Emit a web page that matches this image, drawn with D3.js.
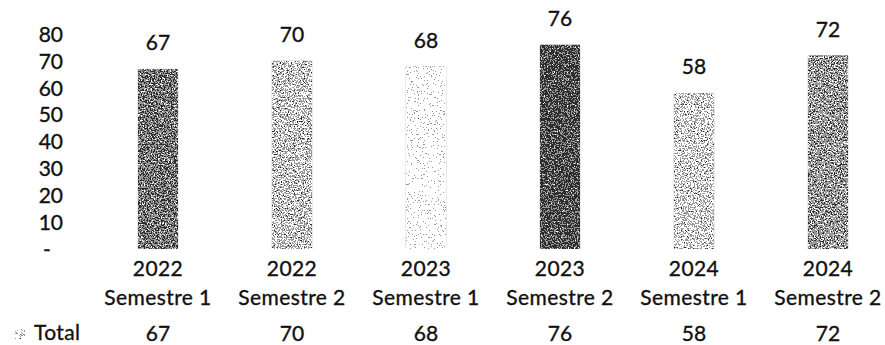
<!DOCTYPE html>
<html>
<head>
<meta charset="utf-8">
<script src="https://cdn.jsdelivr.net/npm/d3@7"></script>
<style>
  html, body { margin: 0; padding: 0; background: #fff; }
  svg { display: block; }
  text { font-family: Lato, "Noto Sans", sans-serif; fill: #111; }
</style>
</head>
<body>
<svg id="chart" width="885" height="345"></svg>
<script>
// Semester totals
const years = ["2022", "2022", "2023", "2023", "2024", "2024"];
const semesters = ["Semestre 1", "Semestre 2", "Semestre 1", "Semestre 2", "Semestre 1", "Semestre 2"];
const totals = [67, 70, 68, 76, 58, 72];
const yTicks = [0, 10, 20, 30, 40, 50, 60, 70, 80];
const seriesName = "Total";

// Grey level of each bar's stipple (0 = black, 1 = white)
const barShades = [0.38, 0.66, 0.975, 0.26, 0.7, 0.5];

const W = 885, H = 345;
const svg = d3.select("#chart");
const fontSize = 21;
const textStroke = 0.35;

// Stipple (dithered grey) filter: grey + noise, thresholded to dots
const defs = svg.append("defs");
const f = defs.append("filter")
  .attr("id", "stipple")
  .attr("x", 0).attr("y", 0).attr("width", 1).attr("height", 1)
  .attr("color-interpolation-filters", "sRGB");
f.append("feTurbulence")
  .attr("type", "fractalNoise").attr("baseFrequency", 0.7)
  .attr("numOctaves", 2).attr("seed", 7).attr("result", "noise");
f.append("feColorMatrix")
  .attr("in", "noise").attr("type", "matrix")
  .attr("values", "1 0 0 0 0  1 0 0 0 0  1 0 0 0 0  0 0 0 0 1")
  .attr("result", "grey");
f.append("feComposite")
  .attr("in", "SourceGraphic").attr("in2", "grey")
  .attr("operator", "arithmetic")
  .attr("k1", 0).attr("k2", 1).attr("k3", 1.8).attr("k4", -0.9)
  .attr("result", "sum");
const ct = f.append("feComponentTransfer").attr("in", "sum").attr("result", "dots");
["feFuncR", "feFuncG", "feFuncB"].forEach(fn =>
  ct.append(fn).attr("type", "discrete").attr("tableValues", "0.18 0.6 1"));
ct.append("feFuncA").attr("type", "linear").attr("slope", 0).attr("intercept", 1);
f.append("feComposite").attr("in", "dots").attr("in2", "SourceAlpha").attr("operator", "in");

// Scales
const idx = d3.range(totals.length);
const x = d3.scaleBand()
  .domain(idx)
  .range([91, 895])
  .paddingInner(0.7)
  .paddingOuter(0.35);
const y = d3.scaleLinear().domain([0, 80]).range([249, 34]);

// Y axis: labels only, zero shown as a dash
const yAxis = d3.axisLeft(y)
  .tickValues(yTicks)
  .tickSize(0)
  .tickPadding(0)
  .tickFormat(d => d === 0 ? "-\u2007" : d);
const gy = svg.append("g").attr("transform", "translate(63,0)").call(yAxis);
gy.select(".domain").remove();
gy.selectAll("text")
  .attr("font-family", null)
  .style("font-size", fontSize + "px")
  .attr("dy", "0.35em")
  .attr("stroke", "#111").attr("stroke-width", textStroke);

// Bars
svg.append("g").selectAll("rect")
  .data(idx)
  .join("rect")
  .attr("x", i => x(i))
  .attr("y", i => y(totals[i]))
  .attr("width", x.bandwidth())
  .attr("height", i => y(0) - y(totals[i]))
  .attr("fill", i => d3.rgb(barShades[i] * 255, barShades[i] * 255, barShades[i] * 255))
  .attr("filter", "url(#stipple)");

const cx = i => x(i) + x.bandwidth() / 2;

// Value labels above bars
svg.append("g").selectAll("text")
  .data(idx)
  .join("text")
  .attr("x", cx)
  .attr("y", i => y(totals[i]) - 26)
  .attr("dy", "0.35em")
  .attr("text-anchor", "middle")
  .style("font-size", fontSize + "px")
  .attr("stroke", "#111").attr("stroke-width", textStroke)
  .text(i => totals[i]);

// Category labels (year / semester)
const cat = svg.append("g").selectAll("text")
  .data(idx)
  .join("text")
  .attr("text-anchor", "middle")
  .style("font-size", fontSize + "px")
  .style("letter-spacing", "0.4px")
  .attr("stroke", "#111").attr("stroke-width", textStroke);
cat.append("tspan").attr("x", cx).attr("y", 269).attr("dy", "0.35em").text(i => years[i]);
cat.append("tspan").attr("x", cx).attr("y", 298).attr("dy", "0.35em").text(i => semesters[i]);

// Data table row
const legendShade = 0.8;
svg.append("rect")
  .attr("x", 15).attr("y", 329).attr("width", 10).attr("height", 10)
  .attr("fill", d3.rgb(legendShade * 255, legendShade * 255, legendShade * 255))
  .attr("filter", "url(#stipple)");
svg.append("text")
  .attr("x", 34).attr("y", 333).attr("dy", "0.35em")
  .style("font-size", fontSize + "px")
  .style("letter-spacing", "0.4px")
  .attr("stroke", "#111").attr("stroke-width", textStroke)
  .text(seriesName);
svg.append("g").selectAll("text")
  .data(idx)
  .join("text")
  .attr("x", cx)
  .attr("y", 334)
  .attr("dy", "0.35em")
  .attr("text-anchor", "middle")
  .style("font-size", fontSize + "px")
  .attr("stroke", "#111").attr("stroke-width", textStroke)
  .text(i => totals[i]);
</script>
</body>
</html>
